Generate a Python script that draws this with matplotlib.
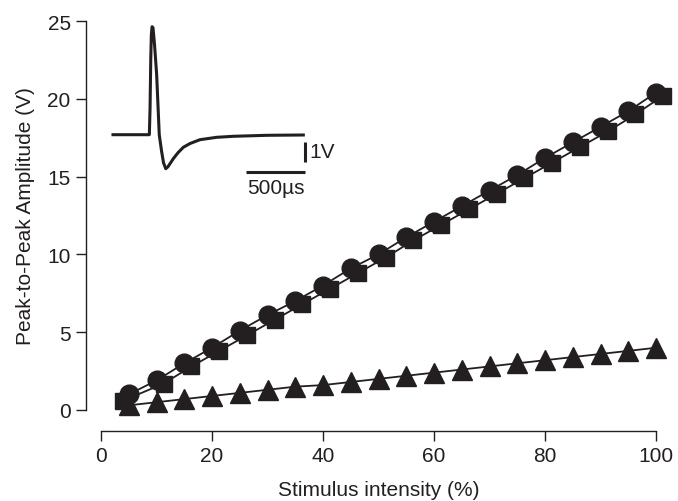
import numpy as np
import matplotlib.pyplot as plt

# Peak-to-peak amplitude vs stimulus intensity, three series
circle_x = [5, 10, 15, 20, 25, 30, 35, 40, 45, 50, 55, 60, 65, 70, 75, 80, 85, 90, 95, 100]
circle_y = [1.0, 1.9, 3.0, 4.0, 5.1, 6.1, 7.0, 8.0, 9.1, 10.0,
            11.1, 12.1, 13.1, 14.1, 15.1, 16.2, 17.2, 18.2, 19.2, 20.4]

square_x = [4, 11.3, 16.3, 21.3, 26.3, 31.3, 36.3, 41.3, 46.3, 51.3,
            56.3, 61.3, 66.3, 71.3, 76.3, 81.3, 86.3, 91.3, 96.3, 101.3]
square_y = [0.6, 1.7, 2.8, 3.8, 4.8, 5.8, 6.8, 7.8, 8.8, 9.8,
            10.9, 11.9, 12.9, 13.9, 14.9, 15.9, 16.9, 17.9, 19.0, 20.2]

triangle_x = [5, 10, 15, 20, 25, 30, 35, 40, 45, 50, 55, 60, 65, 70, 75, 80, 85, 90, 95, 100]
triangle_y = [0.3, 0.5, 0.7, 0.9, 1.1, 1.3, 1.5, 1.6, 1.8, 2.0,
              2.2, 2.4, 2.6, 2.8, 3.0, 3.2, 3.4, 3.6, 3.8, 4.0]

# Inset example trace (time in us, voltage in V)
trace_t = [0, 308, 314, 320, 325, 331, 339, 352, 370, 392, 411, 428, 447,
           466, 511, 551, 596, 653, 737, 879, 1020, 1303, 1613]
trace_v = [0, 0, 1.3, 3.8, 5.0, 5.4, 5.35, 4.5, 3.0, 0, -0.8, -1.4, -1.7,
           -1.6, -1.2, -0.9, -0.63, -0.44, -0.25, -0.13, -0.08, -0.03, -0.015]

scale_t = 500  # us
scale_v = 1    # V

ink = "#231f20"
plt.rcParams["font.family"] = ["Liberation Sans", "DejaVu Sans"]

W, H = 678, 502
fig = plt.figure(figsize=(W / 100, H / 100), dpi=100)
ax = fig.add_axes([101 / W, (H - 411) / H, (656 - 101) / W, (411 - 22) / H])

ax.plot(circle_x, circle_y, color=ink, lw=1.3, marker="o", ms=13.5, clip_on=False, zorder=3)
ax.plot(square_x, square_y, color=ink, lw=1.3, marker="s", ms=11.5, clip_on=False, zorder=2)
ax.plot(triangle_x, triangle_y, color=ink, lw=1.3, marker="^", ms=14, clip_on=False, zorder=2)

ax.set_xlim(0, 100)
ax.set_ylim(0, 25)
ax.set_xticks([0, 20, 40, 60, 80, 100])
ax.set_yticks([0, 5, 10, 15, 20, 25])
for side in ["top", "right"]:
    ax.spines[side].set_visible(False)
ax.spines["left"].set_position(("outward", 10.8))
ax.spines["bottom"].set_position(("outward", 15))
for side in ["left", "bottom"]:
    ax.spines[side].set_color(ink)
    ax.spines[side].set_linewidth(1.0)
ax.tick_params(direction="out", length=7, width=1.0, color=ink, labelsize=15,
               labelcolor=ink, pad=4)
ax.set_xlabel("Stimulus intensity (%)", fontsize=15, color=ink, labelpad=10.5)
ax.set_ylabel("Peak-to-Peak Amplitude (V)", fontsize=15, color=ink, labelpad=9)

# inset: px 100..340 horizontally, 15..200 vertically
t_per_px = scale_t / 59.0
v_per_px = scale_v / 20.0
ins = fig.add_axes([100 / W, (H - 200) / H, 240 / W, 185 / H])
ins.set_xlim(-13 * t_per_px, 227 * t_per_px)
ins.set_ylim(-64.3 * v_per_px, 120.7 * v_per_px)
ins.axis("off")
ins.plot(trace_t, trace_v, color=ink, lw=2.2, solid_joinstyle="round")

bar_x = 192 * t_per_px
ins.plot([bar_x, bar_x], [-0.365, -0.365 - scale_v], color=ink, lw=2.2, solid_capstyle="butt")
ins.plot([bar_x - scale_t, bar_x], [-1.85, -1.85], color=ink, lw=2.2, solid_capstyle="butt")
ins.text(bar_x + 35, -0.365 - scale_v / 2, "1V", fontsize=15, color=ink,
         ha="left", va="center")
ins.text(bar_x - scale_t / 2, -2.65, "500\u00b5s", fontsize=15, color=ink,
         ha="center", va="center")

fig.savefig("out.png", dpi=100)
